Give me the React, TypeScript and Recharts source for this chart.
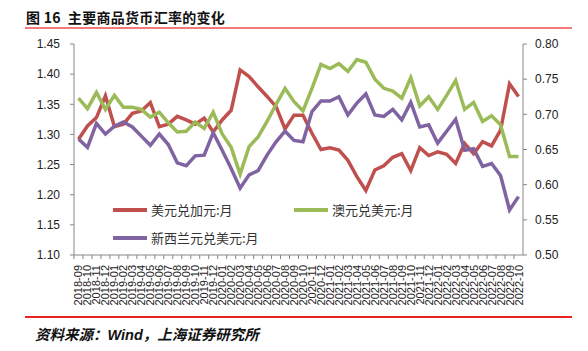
import React from "react";
import { LineChart, Line, XAxis, YAxis } from "recharts";

const months = [
  "2018-09", "2018-10", "2018-11", "2018-12",
  "2019-01", "2019-02", "2019-03", "2019-04", "2019-05", "2019-06",
  "2019-07", "2019-08", "2019-09", "2019-10", "2019-11", "2019-12",
  "2020-01", "2020-02", "2020-03", "2020-04", "2020-05", "2020-06",
  "2020-07", "2020-08", "2020-09", "2020-10", "2020-11", "2020-12",
  "2021-01", "2021-02", "2021-03", "2021-04", "2021-05", "2021-06",
  "2021-07", "2021-08", "2021-09", "2021-10", "2021-11", "2021-12",
  "2022-01", "2022-02", "2022-03", "2022-04", "2022-05", "2022-06",
  "2022-07", "2022-08", "2022-09", "2022-10",
];

// 美元兑加元 (left axis)
const usdCad = [
  1.292, 1.314, 1.328, 1.364, 1.313, 1.317, 1.335, 1.339, 1.353, 1.313,
  1.317, 1.330, 1.324, 1.317, 1.327, 1.304, 1.324, 1.340, 1.407, 1.396,
  1.379, 1.363, 1.346, 1.309, 1.332, 1.332, 1.302, 1.275, 1.278, 1.274,
  1.257, 1.230, 1.207, 1.241, 1.248, 1.262, 1.268, 1.240, 1.278, 1.265,
  1.271, 1.267, 1.252, 1.285, 1.268, 1.288, 1.281, 1.307, 1.384, 1.363,
];

// 澳元兑美元 (right axis)
const audUsd = [
  0.723, 0.708, 0.731, 0.707, 0.727, 0.710, 0.710, 0.707, 0.696, 0.703,
  0.688, 0.675, 0.676, 0.689, 0.680, 0.703, 0.672, 0.653, 0.615, 0.654,
  0.668, 0.690, 0.714, 0.737, 0.718, 0.705, 0.737, 0.771, 0.765, 0.772,
  0.761, 0.778, 0.774, 0.750, 0.737, 0.733, 0.723, 0.752, 0.712, 0.725,
  0.707, 0.727, 0.748, 0.707, 0.717, 0.690, 0.698, 0.685, 0.640, 0.640,
];

// 新西兰元兑美元 (right axis)
const nzdUsd = [
  0.665, 0.653, 0.687, 0.672, 0.683, 0.689, 0.682, 0.669, 0.656, 0.672,
  0.657, 0.631, 0.627, 0.641, 0.642, 0.674, 0.649, 0.623, 0.595, 0.614,
  0.620, 0.642, 0.661, 0.676, 0.663, 0.661, 0.704, 0.719, 0.719, 0.725,
  0.699, 0.716, 0.729, 0.699, 0.697, 0.707, 0.692, 0.717, 0.682, 0.685,
  0.659, 0.676, 0.693, 0.649, 0.651, 0.626, 0.630, 0.613, 0.564, 0.583,
];

const leftTicks = [1.1, 1.15, 1.2, 1.25, 1.3, 1.35, 1.4, 1.45];
const rightTicks = [0.5, 0.55, 0.6, 0.65, 0.7, 0.75, 0.8];

const data = months.map((m, i) => ({
  month: m,
  usdCad: usdCad[i],
  audUsd: audUsd[i],
  nzdUsd: nzdUsd[i],
}));

const RED = "#c0504d";
const GREEN = "#9bbb59";
const PURPLE = "#8064a2";
const AXIS = "#868686";
const SANS = '"Liberation Sans", Arial, sans-serif';
const CJK = '"Noto Sans CJK SC", "Noto Sans", sans-serif';

const HALF_BAND = 449 / 100;

function MonthTick(props: any) {
  const { x, y, payload } = props;
  return (
    <g>
      <line x1={x - HALF_BAND} x2={x - HALF_BAND} y1={255} y2={259} stroke={AXIS} />
      <text
        x={0}
        y={0}
        transform={`translate(${x + 4},${y + 2}) rotate(-90)`}
        textAnchor="end"
        fontSize={11}
        fontFamily={SANS}
        fill="#222"
      >
        {payload.value}
      </text>
    </g>
  );
}

function LegendItem({ color, label, left, top }: any) {
  return (
    <div style={{ position: "absolute", left, top, display: "flex", alignItems: "center" }}>
      <div style={{ width: 34, height: 4, background: color, marginRight: 4 }} />
      <span style={{ fontFamily: CJK, fontSize: 13, color: "#333", whiteSpace: "nowrap" }}>{label}</span>
    </div>
  );
}

export default function App() {
  return (
    <div
      style={{
        position: "absolute",
        left: 0,
        top: 0,
        width: 588,
        height: 351,
        background: "#fff",
        overflow: "hidden",
      }}
    >
      <div
        style={{
          position: "absolute",
          left: 26,
          top: 7,
          fontFamily: CJK,
          fontWeight: 700,
          fontSize: 14,
          letterSpacing: 0.3,
          color: "#111",
          whiteSpace: "nowrap",
        }}
      >
        图 16&nbsp;&nbsp;主要商品货币汇率的变化
      </div>
      <div style={{ position: "absolute", left: 25, top: 27, width: 547, height: 2, background: "#f47a7a" }} />

      <LineChart
        width={588}
        height={351}
        data={data}
        margin={{ top: 44, right: 0, bottom: 46, left: 0 }}
        style={{ position: "absolute", left: 0, top: 0 }}
      >
        <XAxis
          dataKey="month"
          interval={0}
          padding={{ left: HALF_BAND, right: HALF_BAND }}
          height={50}
          axisLine={{ stroke: AXIS }}
          tickLine={false}
          tickSize={4}
          tickMargin={4}
          tick={<MonthTick />}
        />
        <YAxis
          yAxisId="left"
          orientation="left"
          width={74}
          domain={[1.1, 1.45]}
          ticks={leftTicks}
          tickFormatter={(v: number) => v.toFixed(2)}
          axisLine={{ stroke: AXIS }}
          tickLine={{ stroke: AXIS }}
          tickSize={4}
          tickMargin={10}
          tick={{ fontSize: 12, fontFamily: SANS, fill: "#222" }}
          allowDataOverflow
        />
        <YAxis
          yAxisId="right"
          orientation="right"
          width={65}
          domain={[0.5, 0.8]}
          ticks={rightTicks}
          tickFormatter={(v: number) => v.toFixed(2)}
          axisLine={{ stroke: AXIS }}
          tickLine={{ stroke: AXIS }}
          tickSize={4}
          tickMargin={8}
          tick={{ fontSize: 12, fontFamily: SANS, fill: "#222" }}
          allowDataOverflow
        />
        <Line
          yAxisId="left"
          type="linear"
          dataKey="usdCad"
          stroke={RED}
          strokeWidth={3.5}
          dot={false}
          isAnimationActive={false}
        />
        <Line
          yAxisId="right"
          type="linear"
          dataKey="audUsd"
          stroke={GREEN}
          strokeWidth={3.5}
          dot={false}
          isAnimationActive={false}
        />
        <Line
          yAxisId="right"
          type="linear"
          dataKey="nzdUsd"
          stroke={PURPLE}
          strokeWidth={3.5}
          dot={false}
          isAnimationActive={false}
        />
      </LineChart>

      <LegendItem color={RED} label="美元兑加元:月" left={113} top={200} />
      <LegendItem color={GREEN} label="澳元兑美元:月" left={294} top={200} />
      <LegendItem color={PURPLE} label="新西兰元兑美元:月" left={113} top={228} />

      <div style={{ position: "absolute", left: 25, top: 316, width: 547, height: 2, background: "#e82424" }} />
      <div
        style={{
          position: "absolute",
          left: 35,
          top: 323,
          fontFamily: CJK,
          fontWeight: 700,
          fontStyle: "italic",
          fontSize: 14.5,
          color: "#111",
          whiteSpace: "nowrap",
        }}
      >
        资料来源：<span style={{ fontFamily: SANS }}>Wind</span>，上海证券研究所
      </div>
    </div>
  );
}
